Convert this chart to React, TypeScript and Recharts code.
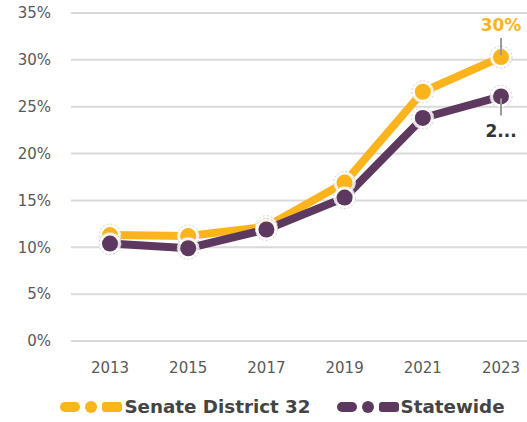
import React from "react";
import { LineChart, Line, XAxis, YAxis, CartesianGrid, Legend, LabelList } from "recharts";

const years = ["2013", "2015", "2017", "2019", "2021", "2023"];
const senateDistrict = [11.3, 11.2, 12.2, 16.9, 26.6, 30.3];
const statewide = [10.4, 9.9, 11.9, 15.3, 23.8, 26.1];
const yTicks = [0, 5, 10, 15, 20, 25, 30, 35];

const YELLOW = "#FBB41C";
const PURPLE = "#5D395F";
const FONT = "'DejaVu Sans', sans-serif";

const data = years.map((year, i) => ({
    year,
    senate: senateDistrict[i],
    statewide: statewide[i],
}));

function HaloDot({ cx, cy, color }) {
    if (cx == null || cy == null) return null;
    return (
        <g>
            <circle cx={cx} cy={cy} r={11} fill="#fff" fillOpacity={0.85} stroke="#cfcfcf" strokeWidth={1} strokeDasharray="2 2" />
            <circle cx={cx} cy={cy} r={8} fill={color} />
        </g>
    );
}

function EndLabel({ x, y, index, value, color, text, below }) {
    if (index !== years.length - 1) return null;
    const dir = below ? 1 : -1;
    return (
        <g>
            <line x1={x} y1={y + dir * 2} x2={x} y2={y + dir * 19} stroke="#9a9a9a" strokeWidth={2} />
            <text
                x={x}
                y={below ? y + 41 : y - 26}
                textAnchor="middle"
                fill={color}
                fontFamily={FONT}
                fontWeight={700}
                fontSize={17}
            >
                {text ?? `${Math.round(value)}%`}
            </text>
        </g>
    );
}

function LegendIcon({ color }) {
    return (
        <svg width={62} height={16} style={{ marginRight: 2 }}>
            <rect x={0} y={3} width={20} height={10} rx={5} fill={color} />
            <circle cx={31} cy={8} r={6} fill={color} />
            <rect x={42} y={3} width={20} height={10} rx={3} fill={color} />
        </svg>
    );
}

function ChartLegend() {
    const items = [
        { label: "Senate District 32", color: YELLOW },
        { label: "Statewide", color: PURPLE },
    ];
    return (
        <div style={{ display: "flex", justifyContent: "center", gap: 26, paddingLeft: 38, paddingTop: 16 }}>
            {items.map(item => (
                <div key={item.label} style={{ display: "flex", alignItems: "center" }}>
                    <LegendIcon color={item.color} />
                    <span style={{ fontFamily: FONT, fontWeight: 700, fontSize: 18.3, color: "#444", lineHeight: "20px" }}>{item.label}</span>
                </div>
            ))}
        </div>
    );
}

export default function App() {
    return (
        <div style={{ position: "absolute", left: 0, top: 0 }}>
            <LineChart width={527} height={422} data={data} margin={{ top: 13, right: 0, bottom: 1, left: 0 }}>
                <CartesianGrid vertical={false} stroke="#d9d9d9" strokeWidth={2} />
                <XAxis
                    dataKey="year"
                    padding={{ left: 39, right: 26 }}
                    axisLine={false}
                    tickLine={false}
                    tickMargin={15}
                    height={40}
                    tick={{ fill: "#595959", fontSize: 15, fontFamily: FONT }}
                />
                <YAxis
                    domain={[0, 35]}
                    ticks={yTicks}
                    tickFormatter={v => `${v}%`}
                    axisLine={false}
                    tickLine={false}
                    width={71}
                    tickMargin={14}
                    tick={{ fill: "#595959", fontSize: 15, fontFamily: FONT }}
                />
                <Legend verticalAlign="bottom" height={40} content={<ChartLegend />} />
                <Line
                    dataKey="senate"
                    name="Senate District 32"
                    stroke={YELLOW}
                    strokeWidth={8}
                    dot={props => <HaloDot key={`s${props.index}`} cx={props.cx} cy={props.cy} color={YELLOW} />}
                    activeDot={false}
                    isAnimationActive={false}
                >
                    <LabelList dataKey="senate" content={props => <EndLabel {...props} color={YELLOW} />} />
                </Line>
                <Line
                    dataKey="statewide"
                    name="Statewide"
                    stroke={PURPLE}
                    strokeWidth={8}
                    dot={props => <HaloDot key={`w${props.index}`} cx={props.cx} cy={props.cy} color={PURPLE} />}
                    activeDot={false}
                    isAnimationActive={false}
                >
                    <LabelList dataKey="statewide" content={props => <EndLabel {...props} color="#333" text="2..." below />} />
                </Line>
            </LineChart>
        </div>
    );
}
